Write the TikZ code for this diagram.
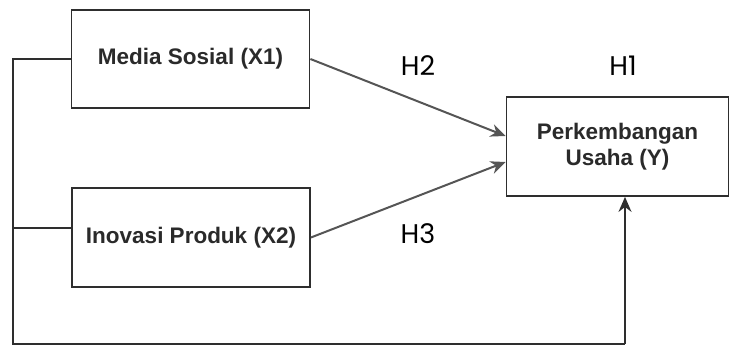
\documentclass[tikz,border=0pt]{standalone}
\usepackage{fontspec}
\setmainfont{Liberation Sans}
\newfontfamily\hfont{Poppins}
\usetikzlibrary{arrows.meta}
\definecolor{boxline}{HTML}{2E2E2E}
\definecolor{arrline}{HTML}{555555}
\definecolor{txt}{HTML}{2A2A2A}
\begin{document}
\begin{tikzpicture}[x=1pt,y=-1pt,
  varbox/.style={draw=boxline,line width=1.8pt,fill=white,inner sep=0pt,
    font=\fontsize{22.5}{25.5}\selectfont\bfseries,text=txt,align=center},
  hlabel/.style={font=\hfont\fontsize{27}{30}\selectfont,text=black,inner sep=0pt},
  conn/.style={draw=boxline,line width=1.6pt},
  arr/.style={draw=arrline,line width=2pt,-{Stealth[length=15pt,width=13pt]}}
]
\useasboundingbox (0,0) rectangle (731,347);
\node[varbox,minimum width=238pt,minimum height=98pt] (x1) at (190.5,59) {Media Sosial (X1)};
\node[varbox,minimum width=238pt,minimum height=99pt] (x2) at (191,237.5) {Inovasi Produk (X2)};
\node[varbox,minimum width=222pt,minimum height=99pt] (y) at (617.5,146.5) {Perkembangan\\Usaha (Y)};
\node[hlabel] (h2) at (418,66) {H2};
\node[hlabel] (h1) at (623,66) {H1};
\node[hlabel] (h3) at (418,234) {H3};
\coordinate (b2) at (x2.west |- 0,228);
\coordinate (lt) at (13,59);
\coordinate (lm) at (13,228);
\coordinate (lb) at (13,344);
\coordinate (rb) at (625,344);
\draw[conn] (x1.west) -- (lt) -- (lb) -- (rb);
\draw[conn] (b2) -- (lm);
\draw[conn,-{Stealth[length=15pt,width=13pt]}] (rb) -- (rb |- y.south);
\draw[arr] (x1.east) -- (y.west |- 0,136);
\draw[arr] (x2.east) -- (y.west |- 0,162);
\end{tikzpicture}
\end{document}
